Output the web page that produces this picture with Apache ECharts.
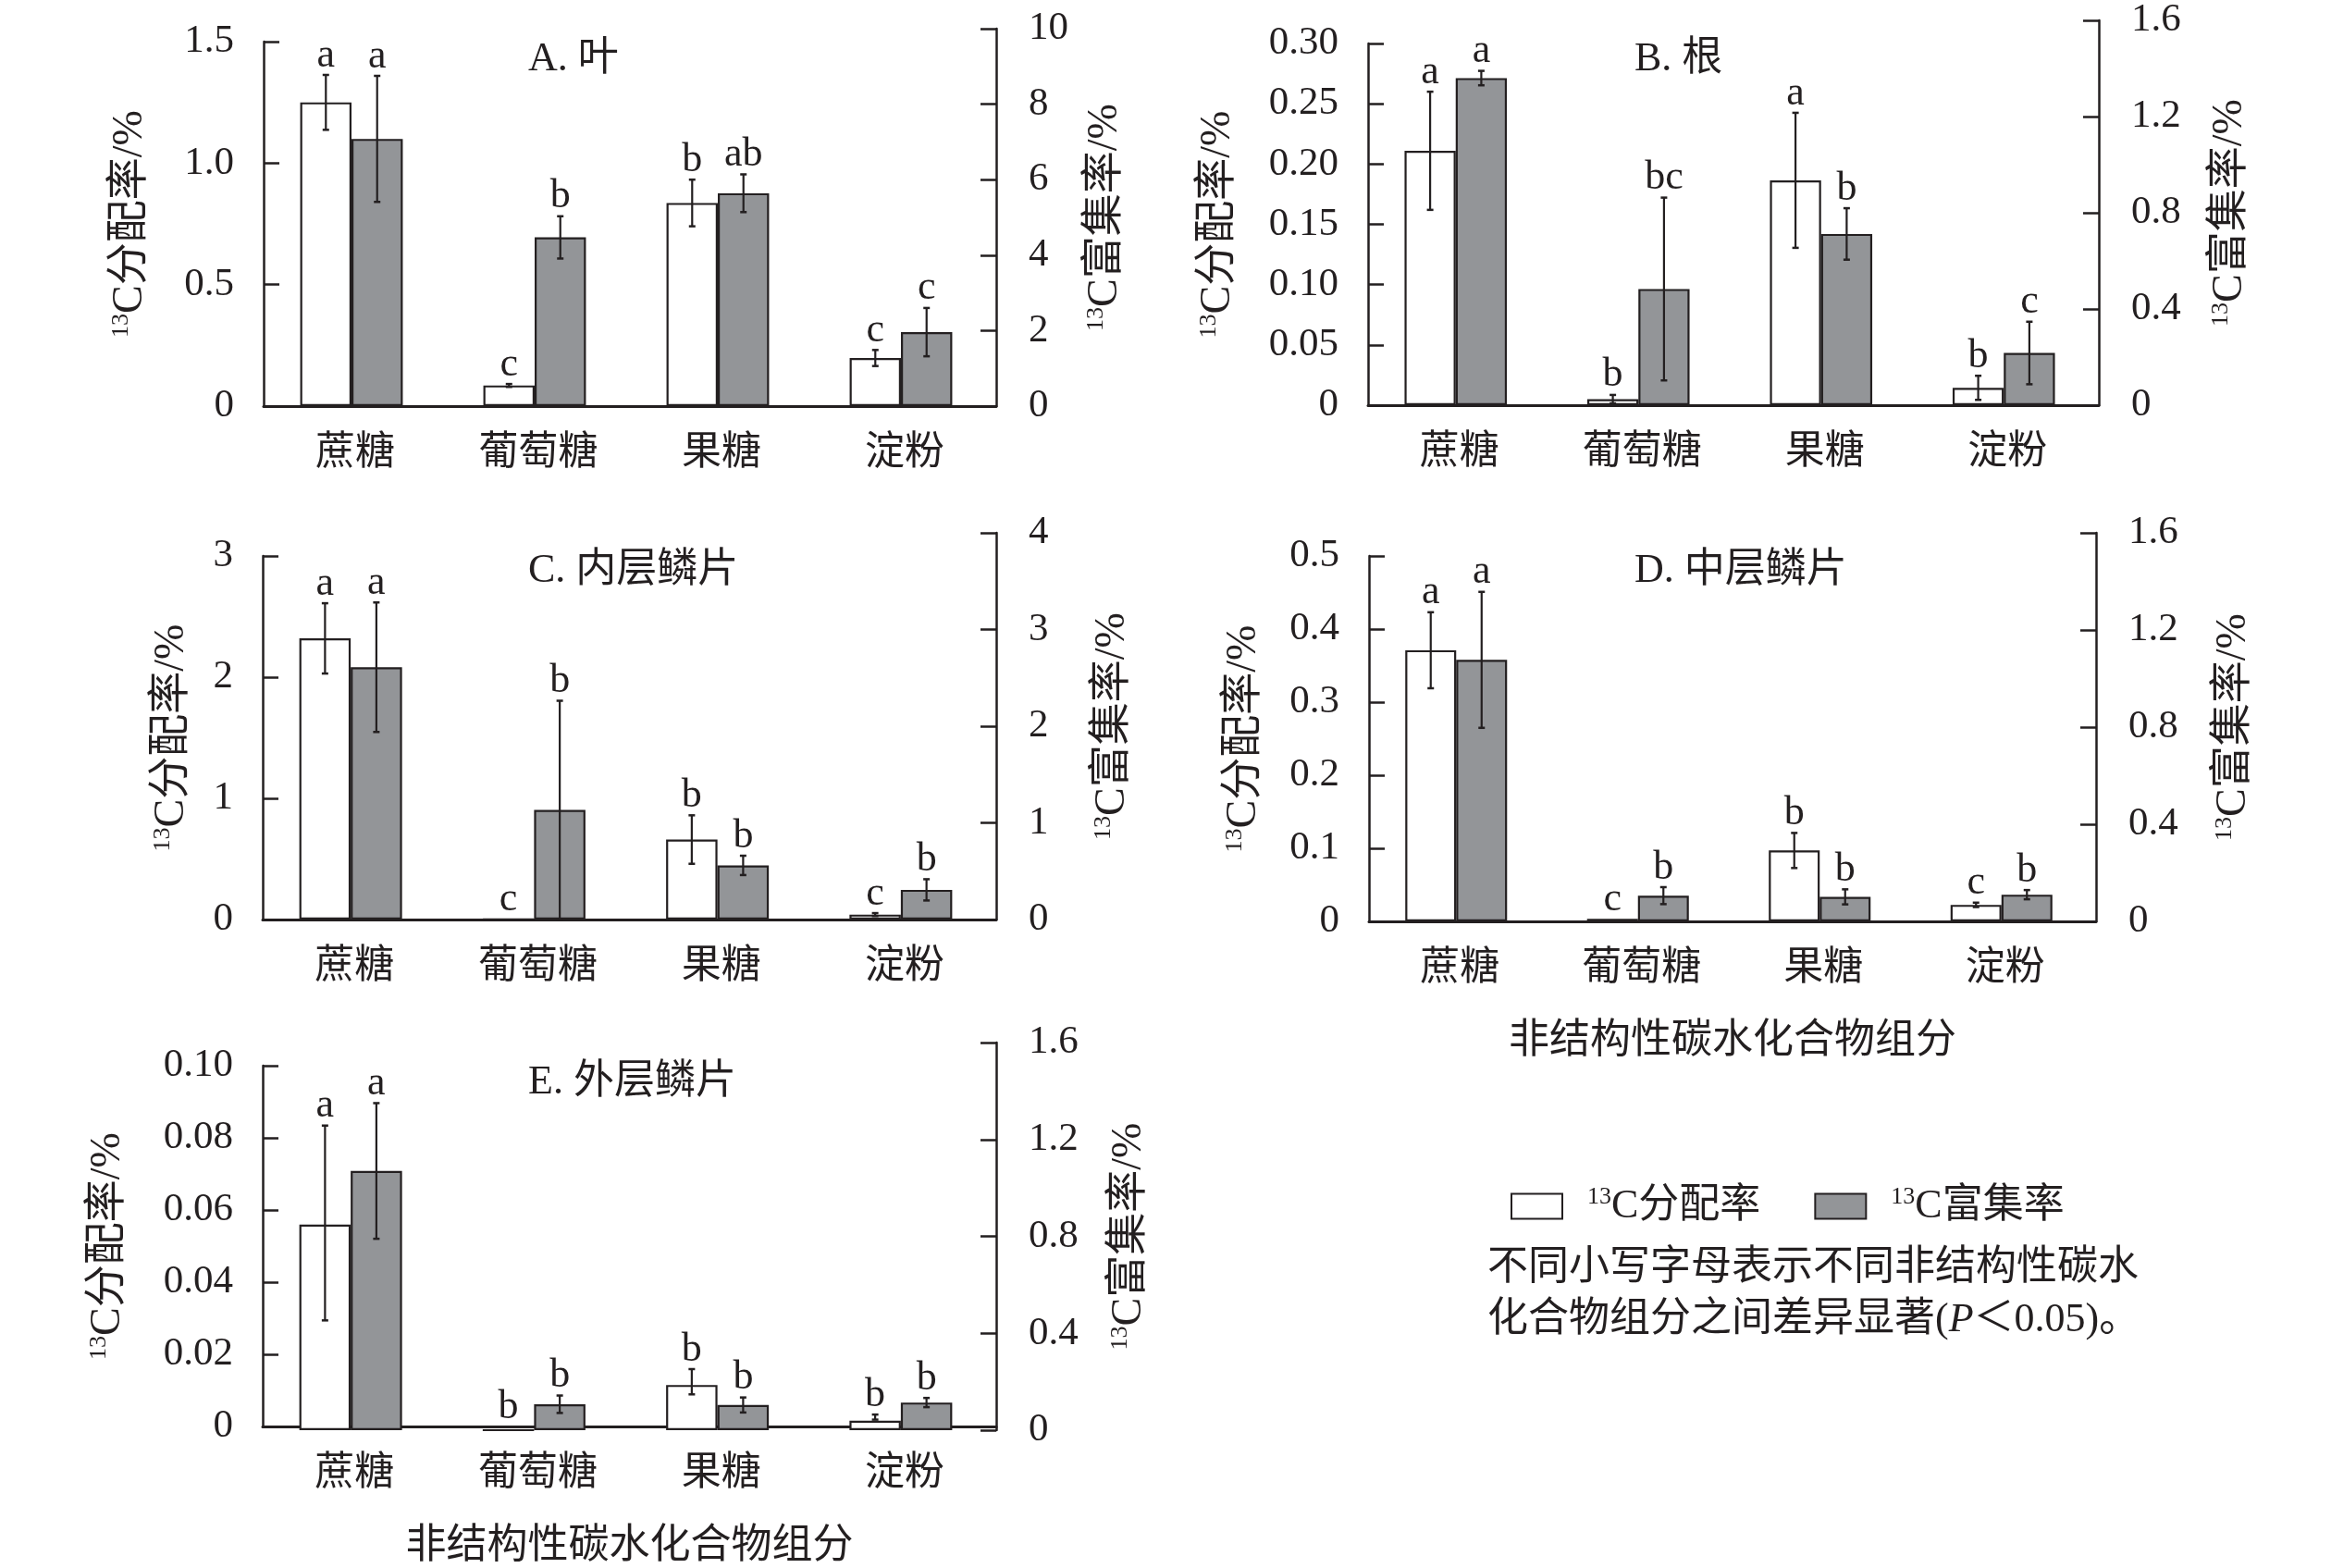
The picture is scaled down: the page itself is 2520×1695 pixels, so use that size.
<!DOCTYPE html>
<html><head><meta charset="utf-8">
<script src="https://cdn.jsdelivr.net/npm/echarts@6/dist/echarts.min.js"></script>
<style>html,body{margin:0;padding:0;background:#fff}#c{width:2520px;height:1695px}</style>
</head><body><div id="c"></div>
<script>
// ---------- data ----------
const categories = ['蔗糖', '葡萄糖', '果糖', '淀粉'];
const panelTitles = ['A. 叶', 'B. 根', 'C. 内层鳞片', 'D. 中层鳞片', 'E. 外层鳞片'];
const allocName = '13C分配率';
const enrichName = '13C富集率';
const allocAxisName = '13C分配率/%';
const enrichAxisName = '13C富集率/%';
const xAxisTitle = '非结构性碳水化合物组分';
const noteText = ['不同小写字母表示不同非结构性碳水', '化合物组分之间差异显著(', 'P', '＜0.05)。'];

// A. 叶
const leafAlloc = [1.25, 0.085, 0.836, 0.198];
const leafAllocErr = [0.113, 0.006, 0.096, 0.033];
const leafEnrich = [7.08, 4.47, 5.64, 1.96];
const leafEnrichErr = [1.67, 0.56, 0.50, 0.64];
const leafAllocLetters = ['a', 'c', 'b', 'c'];
const leafEnrichLetters = ['a', 'b', 'ab', 'c'];
// B. 根
const rootAlloc = [0.211, 0.005, 0.1865, 0.0144];
const rootAllocErr = [0.049, 0.0035, 0.056, 0.010];
const rootEnrich = [1.36, 0.483, 0.712, 0.217];
const rootEnrichErr = [0.03, 0.38, 0.107, 0.13];
const rootAllocLetters = ['a', 'b', 'a', 'b'];
const rootEnrichLetters = ['a', 'bc', 'b', 'c'];
// C. 内层鳞片
const innerAlloc = [2.32, 0.004, 0.66, 0.041];
const innerAllocErr = [0.29, 0, 0.20, 0.012];
const innerEnrich = [2.61, 1.133, 0.56, 0.307];
const innerEnrichErr = [0.67, 1.13, 0.10, 0.11];
const innerAllocLetters = ['a', 'c', 'b', 'c'];
const innerEnrichLetters = ['a', 'b', 'b', 'b'];
// D. 中层鳞片
const middleAlloc = [0.371, 0.0035, 0.097, 0.0226];
const middleAllocErr = [0.052, 0, 0.024, 0.003];
const middleEnrich = [1.077, 0.106, 0.101, 0.110];
const middleEnrichErr = [0.28, 0.035, 0.031, 0.019];
const middleAllocLetters = ['a', 'c', 'b', 'c'];
const middleEnrichLetters = ['a', 'b', 'b', 'b'];
// E. 外层鳞片
const outerAlloc = [0.0564, 0, 0.0124, 0.0026];
const outerAllocErr = [0.027, 0, 0.0035, 0.0007];
const outerEnrich = [1.07, 0.107, 0.104, 0.114];
const outerEnrichErr = [0.28, 0.036, 0.031, 0.019];
const outerAllocLetters = ['a', 'b', 'b', 'b'];
const outerEnrichLetters = ['a', 'b', 'b', 'b'];

// axis scales (tick labels)
const leftAxisMax = [1.5, 0.30, 3, 0.5, 0.10];
const leftAxisInterval = [0.5, 0.05, 1, 0.1, 0.02];
const leftAxisDecimals = [1, 2, 0, 1, 2];
const rightAxisMax = [10, 1.6, 4, 1.6, 1.6];
const rightAxisInterval = [2, 0.4, 1, 0.4, 0.4];
const rightAxisDecimals = [0, 1, 0, 1, 1];

// ---------- layout / style ----------
const INK = '#231f20';
const GRAY = '#939598';
const FONT = '"Liberation Serif", "Noto Sans CJK SC", serif';
const GAP = 0.44;
const layout = [
  { xl: 285, xr: 1077, bottom: 439, topL: 45, topR: 31, nameL: 121, nameR: 95, tx: 566, ty: 37, xname: false },
  { xl: 1479, xr: 2269, bottom: 438, topL: 47, topR: 22, nameL: 139, nameR: 119, tx: 1762, ty: 37, xname: false },
  { xl: 284, xr: 1077, bottom: 994, topL: 601, topR: 576, nameL: 75, nameR: 103, tx: 566, ty: 590, xname: false },
  { xl: 1480, xr: 2266, bottom: 996, topL: 601, topR: 576, nameL: 112, nameR: 126, tx: 1762, ty: 590, xname: true },
  { xl: 284, xr: 1077, bottom: 1546, topL: 1152, topR: 1127, nameL: 144, nameR: 121, tx: 566, ty: 1143, xname: true }
];
const panelData = [
  [leafAlloc, leafAllocErr, leafAllocLetters, leafEnrich, leafEnrichErr, leafEnrichLetters],
  [rootAlloc, rootAllocErr, rootAllocLetters, rootEnrich, rootEnrichErr, rootEnrichLetters],
  [innerAlloc, innerAllocErr, innerAllocLetters, innerEnrich, innerEnrichErr, innerEnrichLetters],
  [middleAlloc, middleAllocErr, middleAllocLetters, middleEnrich, middleEnrichErr, middleEnrichLetters],
  [outerAlloc, outerAllocErr, outerAllocLetters, outerEnrich, outerEnrichErr, outerEnrichLetters]
];

const supRich = { sup: { fontSize: 26, fontFamily: FONT, color: INK, verticalAlign: 'top', lineHeight: 46 } };
function supName(n) { return '{sup|13}{m|' + n.slice(2) + '}'; }

const grid = [], xAxis = [], yAxis = [], series = [], title = [];

function errRender(letters, side) {
  return function (params, api) {
    const i = api.value(0), v = api.value(1), e = api.value(2);
    const catW = api.size([1, 0])[0];
    const bw = catW * (1 - GAP) / 2;
    const p = api.coord([i, v]);
    const x = p[0] - 4 + side * bw / 2;
    const yTop = api.coord([i, v + e])[1];
    const yBot = api.coord([i, Math.max(v - e, 0)])[1];
    const children = [];
    if (e > 0) {
      children.push({ type: 'line', shape: { x1: x, y1: yTop, x2: x, y2: yBot }, style: { stroke: INK, lineWidth: 2.2 } });
      children.push({ type: 'line', shape: { x1: x - 3.5, y1: yTop, x2: x + 3.5, y2: yTop }, style: { stroke: INK, lineWidth: 2.5 } });
      children.push({ type: 'line', shape: { x1: x - 3.5, y1: yBot, x2: x + 3.5, y2: yBot }, style: { stroke: INK, lineWidth: 2.5 } });
    }
    children.push({
      type: 'text',
      style: { text: letters[params.dataIndex], x: x, y: (e > 0 ? yTop : p[1]) + 1, align: 'center', verticalAlign: 'bottom',
        fontSize: 44, fontFamily: FONT, fill: INK }
    });
    return { type: 'group', children: children };
  };
}

layout.forEach((L, k) => {
  const [aV, aE, aL, eV, eE, eL] = panelData[k];
  const gL = grid.length;
  // bars are drawn shifted 4px left of the category centre, as in the reference
  grid.push({ left: L.xl - 4, top: L.topL, width: L.xr - L.xl, height: L.bottom - L.topL, containLabel: false });
  grid.push({ left: L.xl - 4, top: L.topR, width: L.xr - L.xl, height: L.bottom - L.topR, containLabel: false });
  grid.push({ left: L.xl, top: L.topL, width: L.xr - L.xl, height: L.bottom - L.topL, containLabel: false });
  grid.push({ left: L.xl, top: L.topR, width: L.xr - L.xl, height: L.bottom - L.topR, containLabel: false });
  xAxis.push({ type: 'category', data: categories, gridIndex: gL, show: false });
  xAxis.push({ type: 'category', data: categories, gridIndex: gL + 1, show: false });
  xAxis.push({
    type: 'category', data: categories, gridIndex: gL + 2,
    axisLine: { show: true, onZero: false, lineStyle: { color: INK, width: 3 } },
    axisTick: { show: false },
    axisLabel: { fontSize: 43, fontFamily: FONT, color: INK, margin: 30 },
    name: L.xname ? xAxisTitle : '', nameLocation: 'middle', nameGap: L.xname ? 108 : 0,
    nameTextStyle: { fontSize: 44, fontFamily: FONT, color: INK }
  });
  xAxis.push({ type: 'category', data: categories, gridIndex: gL + 3, show: false });
  const ld = leftAxisDecimals[k], rd = rightAxisDecimals[k];
  const hiddenY = (g, max, itv) => ({ type: 'value', gridIndex: g, min: 0, max: max, interval: itv, show: false, splitLine: { show: false } });
  yAxis.push(hiddenY(gL, leftAxisMax[k], leftAxisInterval[k]));
  yAxis.push(hiddenY(gL + 1, rightAxisMax[k], rightAxisInterval[k]));
  const nameStyle = { fontSize: 46, fontFamily: FONT, color: INK,
    rich: Object.assign({ m: { fontSize: 46, fontFamily: FONT, color: INK, lineHeight: 46 } }, supRich) };
  yAxis.push({
    type: 'value', gridIndex: gL + 2, position: 'left', min: 0, max: leftAxisMax[k], interval: leftAxisInterval[k],
    splitLine: { show: false },
    axisLine: { show: true, lineStyle: { color: INK, width: 2.5 } },
    axisTick: { show: true, inside: true, length: 17, lineStyle: { color: INK, width: 2.5 } },
    axisLabel: { fontSize: 43, fontFamily: FONT, color: INK, margin: 32,
      formatter: v => v === 0 ? '0' : v.toFixed(ld) },
    name: supName(allocAxisName), nameLocation: 'middle', nameRotate: 90, nameGap: L.nameL,
    nameTextStyle: nameStyle
  });
  yAxis.push({
    type: 'value', gridIndex: gL + 3, position: 'right', min: 0, max: rightAxisMax[k], interval: rightAxisInterval[k],
    splitLine: { show: false },
    axisLine: { show: true, lineStyle: { color: INK, width: 2.5 } },
    axisTick: { show: true, inside: true, length: 17, lineStyle: { color: INK, width: 2.5 } },
    axisLabel: { fontSize: 43, fontFamily: FONT, color: INK, margin: 35,
      formatter: v => v === 0 ? '0' : v.toFixed(rd) },
    name: supName(enrichAxisName), nameLocation: 'middle', nameRotate: 90, nameGap: L.nameR,
    nameTextStyle: nameStyle
  });
  const axL = xAxis.length - 4, axR = xAxis.length - 3;
  const ayL = yAxis.length - 4, ayR = yAxis.length - 3;
  const blank = categories.map(() => '-');
  series.push({
    type: 'bar', name: allocName, xAxisIndex: axL, yAxisIndex: ayL, data: aV,
    barGap: '0%', barCategoryGap: (GAP * 100) + '%',
    itemStyle: { color: '#ffffff', borderColor: INK, borderWidth: 2.2 }, silent: true, z: 2
  });
  series.push({ type: 'bar', name: 'pad' + k + 'a', xAxisIndex: axL, yAxisIndex: ayL, data: blank,
    barGap: '0%', barCategoryGap: (GAP * 100) + '%', silent: true });
  series.push({ type: 'bar', name: 'pad' + k + 'b', xAxisIndex: axR, yAxisIndex: ayR, data: blank,
    barGap: '0%', barCategoryGap: (GAP * 100) + '%', silent: true });
  series.push({
    type: 'bar', name: enrichName, xAxisIndex: axR, yAxisIndex: ayR, data: eV,
    barGap: '0%', barCategoryGap: (GAP * 100) + '%',
    itemStyle: { color: GRAY, borderColor: INK, borderWidth: 2.2 }, silent: true, z: 2
  });
  series.push({
    type: 'custom', name: 'errA' + k, xAxisIndex: axL + 2, yAxisIndex: ayL + 2, z: 5, silent: true,
    data: aV.map((v, i) => [i, v, aE[i]]), encode: { x: 0, y: 1 }, renderItem: errRender(aL, -1)
  });
  series.push({
    type: 'custom', name: 'errE' + k, xAxisIndex: axR + 2, yAxisIndex: ayR + 2, z: 5, silent: true,
    data: eV.map((v, i) => [i, v, eE[i]]), encode: { x: 0, y: 1 }, renderItem: errRender(eL, 1)
  });
  title.push({ text: panelTitles[k], left: L.tx, top: L.ty,
    textStyle: { fontSize: 44, fontWeight: 'normal', fontFamily: FONT, color: INK } });
});

const chart = echarts.init(document.getElementById('c'), null, { renderer: 'canvas' });
chart.setOption({
  backgroundColor: '#ffffff',
  animation: false,
  title: title,
  grid: grid, xAxis: xAxis, yAxis: yAxis, series: series,
  legend: {
    data: [allocName, enrichName], left: 1628, top: 1276, icon: 'rect',
    itemWidth: 55, itemHeight: 27, itemGap: 58, selectedMode: false,
    formatter: n => supName(n),
    textStyle: { fontSize: 44, fontFamily: FONT, color: INK, padding: [0, 0, 0, 22],
      rich: Object.assign({ m: { fontSize: 44, fontFamily: FONT, color: INK, lineHeight: 46 } }, supRich) }
  },
  graphic: [{
    type: 'text', left: 1608, top: 1343,
    style: {
      text: noteText[0] + '\n' + noteText[1] + '{i|' + noteText[2] + '}' + noteText[3],
      fontSize: 44, fontFamily: FONT, fill: INK, lineHeight: 56,
      rich: { i: { fontSize: 44, fontFamily: FONT, fontStyle: 'italic', fill: INK, lineHeight: 56 } }
    }
  }]
});
</script></body></html>
